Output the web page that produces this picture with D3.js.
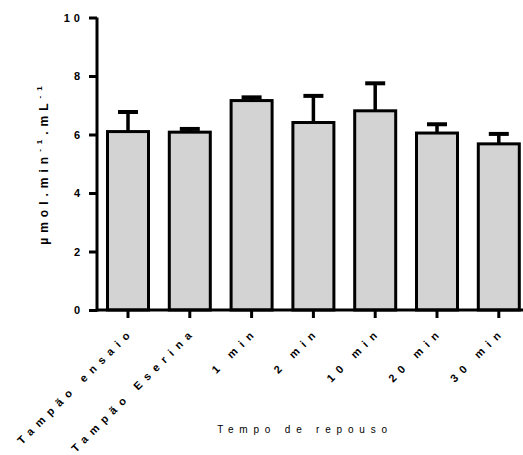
<!DOCTYPE html>
<html><head><meta charset="utf-8">
<script src="https://cdn.jsdelivr.net/npm/d3@7/dist/d3.min.js"></script>
<style>body{margin:0;background:#fff}svg{display:block}text{font-family:"Liberation Sans",Arial,sans-serif}</style>
</head><body><svg id="c" width="523" height="455"></svg>
<script>
const categories = ["Tampão ensaio","Tampão Eserina","1 min","2 min","10 min","20 min","30 min"];
const values = [6.10, 6.08, 7.16, 6.41, 6.81, 6.05, 5.68];
const errors = [0.67, 0.11, 0.11, 0.91, 0.94, 0.30, 0.34];
const yTicks = [0,2,4,6,8,10];

const svg = d3.select("#c");
const y = d3.scaleLinear().domain([0,10]).range([310, 17.5]);
const x = d3.scaleBand().domain(categories).range([97, 529.8]).paddingInner(0.288).paddingOuter(0.1456);

// error bars
const eb = svg.append("g");
categories.forEach((c,i)=>{
  const cx = x(c)+x.bandwidth()/2;
  eb.append("line").attr("x1",cx).attr("x2",cx).attr("y1",y(values[i])).attr("y2",y(values[i]+errors[i]))
    .attr("stroke","#000").attr("stroke-width",3.5);
  eb.append("line").attr("x1",cx-10).attr("x2",cx+10).attr("y1",y(values[i]+errors[i])).attr("y2",y(values[i]+errors[i]))
    .attr("stroke","#000").attr("stroke-width",4);
});
// bars
svg.append("g").selectAll("rect").data(categories).join("rect")
  .attr("x",d=>x(d)+1.5).attr("width",x.bandwidth()-3)
  .attr("y",(d,i)=>y(values[i])).attr("height",(d,i)=>y(0)-y(values[i]))
  .attr("fill","#d3d3d3").attr("stroke","#000").attr("stroke-width",3);

// y axis
const ya = svg.append("g").attr("transform","translate(97,0)")
  .call(d3.axisLeft(y).tickValues(yTicks).tickSize(8).tickSizeOuter(0).tickPadding(5));
ya.select(".domain").attr("stroke-width",3).attr("d",`M0,${y(10)}V${y(0)+1.5}`);
ya.selectAll(".tick line").attr("stroke-width",3);
ya.selectAll(".tick text").attr("font-size",11).attr("font-weight","bold").attr("fill","#000")
  .style("letter-spacing","4px").attr("font-family","Liberation Sans, Arial, sans-serif");

// x axis
const xa = svg.append("g").attr("transform","translate(0,310)")
  .call(d3.axisBottom(x).tickSize(8).tickSizeOuter(0).tickFormat(""));
xa.select(".domain").attr("stroke-width",3).attr("d","M97,0H523");
xa.selectAll(".tick line").attr("stroke-width",3);
xa.selectAll(".tick").append("text")
  .text(d=>d).attr("fill","#000").attr("font-size",11).attr("font-weight","bold")
  .style("letter-spacing","6.2px").attr("text-anchor","end")
  .attr("transform","translate(7,22) rotate(-45)");

// axis titles
const yt = svg.append("text").attr("transform","translate(48,163) rotate(-90)")
  .attr("text-anchor","middle").attr("font-size",12).attr("font-weight","bold")
  .style("letter-spacing","5px");
yt.append("tspan").text("µmol.min");
yt.append("tspan").text("-1").attr("font-size",8).attr("dy",-6);
yt.append("tspan").text(".mL").attr("dy",6);
yt.append("tspan").text("-1").attr("font-size",8).attr("dy",-6);

svg.append("text").attr("x",305).attr("y",433).attr("text-anchor","middle")
  .attr("font-size",10).style("letter-spacing","5.8px").text("Tempo de repouso");
</script></body></html>
